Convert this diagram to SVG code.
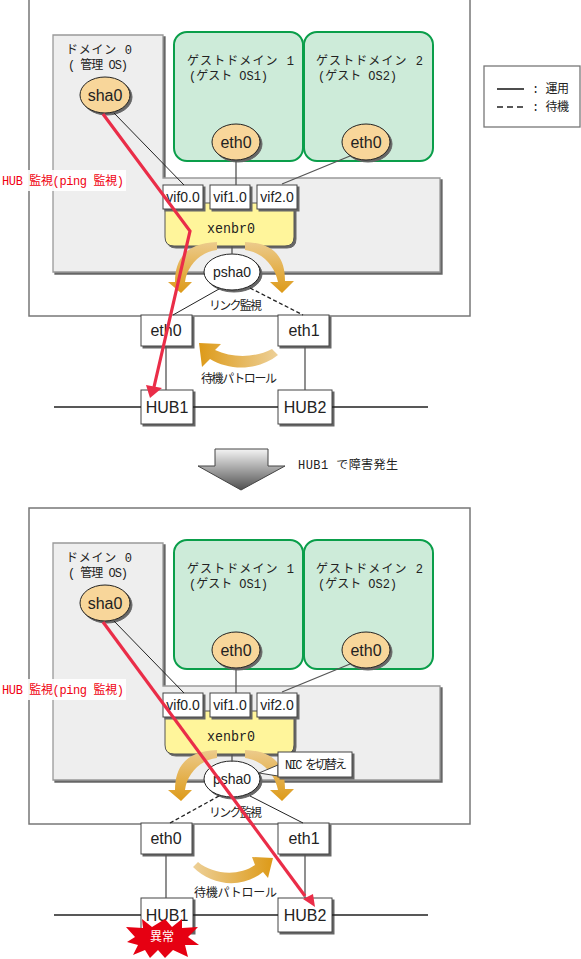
<svg xmlns="http://www.w3.org/2000/svg" width="581" height="959" viewBox="0 0 581 959">
<style>
.sh{filter:drop-shadow(2px 2px 0.6px #666)}
.panel{fill:#fff;stroke:#777;stroke-width:1.5}
.dom{fill:#eee;stroke:#999;stroke-width:1.3}
.guest{fill:#cdebd9;stroke:#0a9e4a;stroke-width:2}
.el{fill:#f8d69a;stroke:#222;stroke-width:1}
.box{fill:#fff;stroke:#444;stroke-width:1}
.br{fill:#fff59b;stroke:#555;stroke-width:1}
.ln{stroke:#222;stroke-width:1;fill:none}
.gl{stroke:#555;stroke-width:1.3;fill:none}
.hub{stroke:#222;stroke-width:1.6;fill:none}
.da{stroke-dasharray:4 2.5;stroke-width:1.3}
.red{stroke:#ea2d48;stroke-width:3.2;fill:none;stroke-linejoin:miter}
.rh{fill:#ea2d48}
.t{font-family:"Liberation Mono","Noto Sans CJK JP",monospace;font-size:12px;fill:#222}
.x{font-size:15px}
.n{font-family:"Liberation Sans",sans-serif;fill:#222;text-anchor:middle}
.s16{font-size:16px}.s14{font-size:14px}
.r{fill:#f00010}
</style>
<defs>
<linearGradient id="gl" x1="0" y1="0" x2="0" y2="1"><stop offset="0" stop-color="#eccb8c"/><stop offset="1" stop-color="#dd9a18"/></linearGradient>
<linearGradient id="gh" x1="1" y1="0" x2="0" y2="0"><stop offset="0" stop-color="#edd098"/><stop offset="1" stop-color="#dd9a18"/></linearGradient>
<linearGradient id="gh2" x1="0" y1="0" x2="1" y2="0"><stop offset="0" stop-color="#edd098"/><stop offset="1" stop-color="#dd9a18"/></linearGradient>
<linearGradient id="gd" x1="0" y1="0" x2="0" y2="1"><stop offset="0" stop-color="#f4f4f4"/><stop offset="1" stop-color="#505050"/></linearGradient>
<path id="arcL" d="M217 242C187 243 175 258 175 282H168L181 293L192 282H185C187 266 200 252 217 250Z"/>
<path id="arcR" d="M245 242C275 243 285 258 285 281H294L282 293L270 282H278C275 266 262 252 245 250Z"/>
</defs>

<g id="panel-top">
<rect class="panel" x="29" y="-1" width="441" height="317"/>
<path id="domain0-top" class="dom sh" d="M53 35H163V178H440V272H53Z"/>
<rect id="guest1-top" class="guest" x="174" y="32" width="129" height="129" rx="13"/>
<rect id="guest2-top" class="guest" x="304" y="32" width="129" height="129" rx="13"/>
<text class="t" x="66" y="54" textLength="66" lengthAdjust="spacing">ドメイン 0</text>
<text class="t" x="68" y="69" textLength="60" lengthAdjust="spacing">( 管理 OS)</text>
<text class="t" x="187" y="65" textLength="107" lengthAdjust="spacing">ゲストドメイン 1</text>
<text class="t" x="189" y="80" textLength="79" lengthAdjust="spacing">(ゲスト OS1)</text>
<text class="t" x="316" y="65" textLength="107" lengthAdjust="spacing">ゲストドメイン 2</text>
<text class="t" x="318" y="80" textLength="79" lengthAdjust="spacing">(ゲスト OS2)</text>
<g id="sha0-top"><ellipse class="el sh" cx="105" cy="95" rx="25" ry="18"/><text class="n s16" x="105" y="101">sha0</text></g>
<g id="g1eth0-top"><ellipse class="el sh" cx="236" cy="142" rx="24" ry="18"/><text class="n s16" x="236" y="148">eth0</text></g>
<g id="g2eth0-top"><ellipse class="el sh" cx="366" cy="142" rx="24" ry="18"/><text class="n s16" x="366" y="148">eth0</text></g>
<g id="xenbr0-top"><path class="br sh" d="M165 203H294V237Q294 246 285 246H174Q165 246 165 237Z"/><text class="t x" x="207" y="233" textLength="48" lengthAdjust="spacingAndGlyphs">xenbr0</text></g>
<g id="vif00-top"><rect class="box sh" x="163" y="185" width="40" height="24"/><text class="n s14" x="183" y="202">vif0.0</text></g>
<g id="vif10-top"><rect class="box sh" x="210" y="185" width="40" height="24"/><text class="n s14" x="230" y="202">vif1.0</text></g>
<g id="vif20-top"><rect class="box sh" x="257" y="185" width="40" height="24"/><text class="n s14" x="277" y="202">vif2.0</text></g>
<use href="#arcL" fill="url(#gl)"/><use href="#arcR" fill="url(#gl)"/>
<g id="psha0-top"><ellipse class="sh" fill="#fff" stroke="#222" cx="232" cy="272" rx="28" ry="18"/><text class="n s14" x="232" y="277">psha0</text></g>
<g id="eth0-top"><rect class="box sh" x="141" y="315" width="51" height="31"/><text class="n s16" x="166" y="336">eth0</text></g>
<g id="eth1-top"><rect class="box sh" x="278" y="315" width="51" height="31"/><text class="n s16" x="304" y="336">eth1</text></g>
<g id="hub1-top"><rect class="box sh" x="141" y="390" width="52" height="34"/><text class="n s16" x="167" y="413">HUB1</text></g>
<g id="hub2-top"><rect class="box sh" x="278" y="390" width="54" height="34"/><text class="n s16" x="305" y="413">HUB2</text></g>
<path fill="url(#gh)" d="M272 349L278 355C258 371 230 371 210 359L202 367L199 343L221 344L215 350C232 358 255 358 272 349Z"/>
<text class="t" x="209" y="310" textLength="53" lengthAdjust="spacing">リンク監視</text>
<text class="t" x="201" y="383" textLength="76" lengthAdjust="spacing">待機パトロール</text>
<rect x="0" y="170" width="126" height="21" fill="#fff" opacity="0.9"/>
<text class="t r" x="2" y="185" textLength="122" lengthAdjust="spacing">HUB 監視(ping 監視)</text>
<g id="connectors-top">
<path class="ln" d="M114 113L184 185"/>
<path class="gl" d="M236 160V185M350 156L282 184M232 246V254M166 346V390M305 346V390"/>
<path class="ln" d="M219 289L173 315"/>
<path class="ln da" d="M250 288L303 315"/>
<path class="hub" d="M54 407H141M193 407H278M332 407H428"/>
<path class="red" d="M103 114L190 231L154 387"/>
<path class="rh" d="M150 398L146 385L162 388Z"/>
</g>
</g>

<g id="transition">
<path fill="url(#gd)" stroke="#444" d="M215 449H268V466H285L241 490L198 466H215Z"/>
<text class="t" x="298" y="469" textLength="100" lengthAdjust="spacing">HUB1 で障害発生</text>
</g>

<g id="legend">
<rect x="484" y="66" width="96" height="61" fill="#fff" stroke="#777" stroke-width="1.3"/>
<path class="hub" d="M497 89H524"/>
<path class="hub" d="M497 107H524" stroke-dasharray="6 4"/>
<text class="t" x="532" y="93" textLength="37" lengthAdjust="spacing">: 運用</text>
<text class="t" x="532" y="111" textLength="37" lengthAdjust="spacing">: 待機</text>
</g>

<g id="panel-bottom">
<rect class="panel" x="29" y="508" width="441" height="316"/>
<g transform="translate(0,508)">
<path id="domain0-bottom" class="dom sh" d="M53 35H163V178H440V272H53Z"/>
<rect id="guest1-bottom" class="guest" x="174" y="32" width="129" height="129" rx="13"/>
<rect id="guest2-bottom" class="guest" x="304" y="32" width="129" height="129" rx="13"/>
<text class="t" x="66" y="54" textLength="66" lengthAdjust="spacing">ドメイン 0</text>
<text class="t" x="68" y="69" textLength="60" lengthAdjust="spacing">( 管理 OS)</text>
<text class="t" x="187" y="65" textLength="107" lengthAdjust="spacing">ゲストドメイン 1</text>
<text class="t" x="189" y="80" textLength="79" lengthAdjust="spacing">(ゲスト OS1)</text>
<text class="t" x="316" y="65" textLength="107" lengthAdjust="spacing">ゲストドメイン 2</text>
<text class="t" x="318" y="80" textLength="79" lengthAdjust="spacing">(ゲスト OS2)</text>
<g id="sha0-bottom"><ellipse class="el sh" cx="105" cy="95" rx="25" ry="18"/><text class="n s16" x="105" y="101">sha0</text></g>
<g id="g1eth0-bottom"><ellipse class="el sh" cx="236" cy="142" rx="24" ry="18"/><text class="n s16" x="236" y="148">eth0</text></g>
<g id="g2eth0-bottom"><ellipse class="el sh" cx="366" cy="142" rx="24" ry="18"/><text class="n s16" x="366" y="148">eth0</text></g>
<g id="xenbr0-bottom"><path class="br sh" d="M165 203H294V237Q294 246 285 246H174Q165 246 165 237Z"/><text class="t x" x="207" y="233" textLength="48" lengthAdjust="spacingAndGlyphs">xenbr0</text></g>
<g id="vif00-bottom"><rect class="box sh" x="163" y="185" width="40" height="24"/><text class="n s14" x="183" y="202">vif0.0</text></g>
<g id="vif10-bottom"><rect class="box sh" x="210" y="185" width="40" height="24"/><text class="n s14" x="230" y="202">vif1.0</text></g>
<g id="vif20-bottom"><rect class="box sh" x="257" y="185" width="40" height="24"/><text class="n s14" x="277" y="202">vif2.0</text></g>
<use href="#arcL" fill="url(#gl)"/><use href="#arcR" fill="url(#gl)"/>
<g id="psha0-bottom"><ellipse class="sh" fill="#fff" stroke="#222" cx="232" cy="271" rx="28" ry="18"/><text class="n s14" x="232" y="276">psha0</text></g>
<g id="nic-note"><path class="box" d="M259 265L278 257V268Z"/><rect class="box sh" x="278" y="244" width="74" height="25"/><text class="t" x="285" y="261" textLength="62" lengthAdjust="spacing">NIC を切替え</text></g>
<g id="eth0-bottom"><rect class="box sh" x="141" y="315" width="51" height="31"/><text class="n s16" x="166" y="336">eth0</text></g>
<g id="eth1-bottom"><rect class="box sh" x="278" y="315" width="51" height="31"/><text class="n s16" x="304" y="336">eth1</text></g>
<g id="hub1-bottom"><rect class="box sh" x="141" y="390" width="52" height="34"/><text class="n s16" x="167" y="413">HUB1</text></g>
<g id="hub2-bottom"><rect class="box sh" x="278" y="390" width="54" height="34"/><text class="n s16" x="305" y="413">HUB2</text></g>
<path fill="url(#gh2)" d="M198 354C212 366 238 369 255 357L252 349L273 350L268 370L263 364C242 381 212 378 193 359Z"/>
<text class="t" x="209" y="309" textLength="53" lengthAdjust="spacing">リンク監視</text>
<text class="t" x="194" y="389" textLength="83" lengthAdjust="spacing">待機パトロール</text>
<rect x="0" y="171" width="126" height="21" fill="#fff" opacity="0.9"/>
<text class="t r" x="2" y="186" textLength="122" lengthAdjust="spacing">HUB 監視(ping 監視)</text>
<g id="connectors-bottom">
<path class="ln" d="M114 113L184 185"/>
<path class="gl" d="M236 160V185M350 156L282 184M232 246V254M166 346V390M305 346V390"/>
<path class="ln da" d="M219 288L170 315"/>
<path class="ln" d="M250 288L303 315"/>
<path class="hub" d="M54 407H141M193 407H278M332 407H428"/>
<path class="red" d="M103 114L305 388"/>
<path class="rh" d="M315 399L303 391L313 386Z"/>
</g>
<g id="fault">
<path fill="#e60012" d="M142 411L152 419L165 411L172 419L182 411L182 420L198 419L188 429L199 437L185 437L188 449L173 442L165 450L158 442L150 450L145 442L133 447L138 437L127 434L135 429L126 419L143 420Z"/>
<text x="162" y="433" font-family="'Noto Sans CJK JP',sans-serif" font-size="12" fill="#fff" text-anchor="middle">異常</text>
</g>
</g>
</g>
</svg>
